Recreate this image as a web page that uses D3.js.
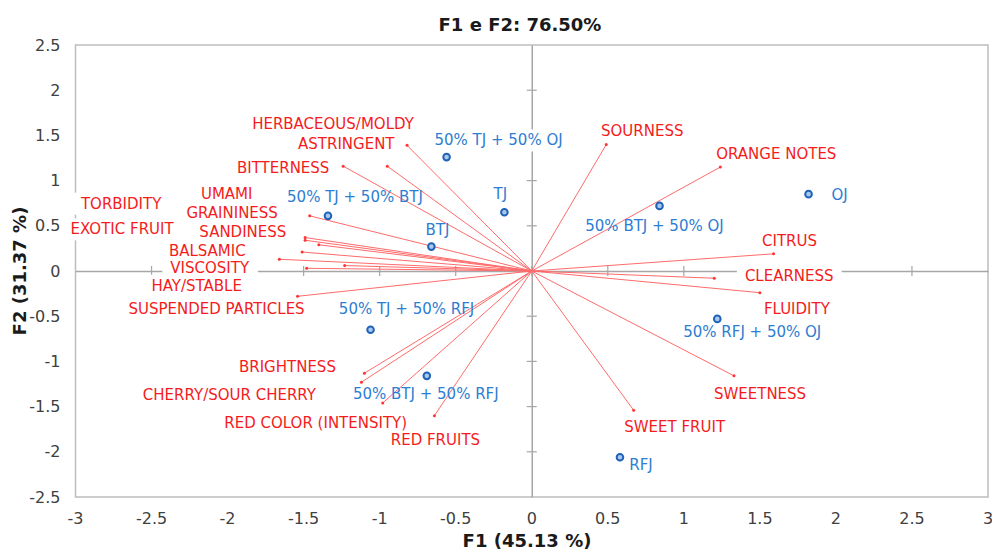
<!DOCTYPE html>
<html>
<head>
<meta charset="utf-8">
<script src="https://cdn.jsdelivr.net/npm/d3@7"></script>
<style>
  body { margin: 0; background: #fff; }
  text { font-family: "DejaVu Sans", sans-serif; }
</style>
</head>
<body>
<div id="chartCont"></div>
<script>
// observations (products)
var obsNames = ['50% TJ + 50% OJ', '50% TJ + 50% BTJ', 'TJ', 'BTJ', '50% BTJ + 50% OJ', 'OJ',
    '50% TJ + 50% RFJ', '50% BTJ + 50% RFJ', '50% RFJ + 50% OJ', 'RFJ'];
var obsF1 = [-0.56, -1.34, -0.18, -0.66, 0.84, 1.82, -1.06, -0.69, 1.22, 0.58];
var obsF2 = [1.26, 0.61, 0.65, 0.27, 0.72, 0.85, -0.65, -1.16, -0.53, -2.06];

// variables (sensory attributes)
var varNames = ['HERBACEOUS/MOLDY', 'ASTRINGENT', 'BITTERNESS', 'UMAMI', 'GRAININESS', 'TORBIDITY',
    'SANDINESS', 'EXOTIC FRUIT', 'BALSAMIC', 'VISCOSITY', 'HAY/STABLE', 'SUSPENDED PARTICLES',
    'BRIGHTNESS', 'CHERRY/SOUR CHERRY', 'RED COLOR (INTENSITY)', 'RED FRUITS',
    'SOURNESS', 'ORANGE NOTES', 'CITRUS', 'CLEARNESS', 'FLUIDITY', 'SWEETNESS', 'SWEET FRUIT'];
var varF1 = [-0.82, -0.95, -1.24, -1.46, -1.49, -1.49, -1.40, -1.51, -1.66, -1.23, -1.48, -1.54,
    -1.10, -1.12, -0.98, -0.64, 0.49, 1.24, 1.59, 1.20, 1.50, 1.33, 0.67];
var varF2 = [1.39, 1.16, 1.16, 0.61, 0.37, 0.34, 0.29, 0.21, 0.13, 0.06, 0.03, -0.28,
    -1.13, -1.23, -1.46, -1.60, 1.40, 1.15, 0.19, -0.08, -0.24, -1.16, -1.54];

var xTicks = [-3, -2.5, -2, -1.5, -1, -0.5, 0, 0.5, 1, 1.5, 2, 2.5, 3];
var yTicks = [-2.5, -2, -1.5, -1, -0.5, 0, 0.5, 1, 1.5, 2, 2.5];

var chartTitle = 'F1 e F2: 76.50%';
var xTitle = 'F1 (45.13 %)';
var yTitle = 'F2 (31.37 %)';

// label placement, pixel offset of label centre from its mark (moved by hand like in the original)
var obsLabelOff = [[52, -17], [27, -19], [-4, -19], [6, -17], [-5, 20], [31, 0],
    [36, -21], [-1, 18], [35, 13], [21, 7]];
var varLabelOff = [[-74, -22], [-41, -23], [-60, 1], [-83, -22], [-73, -25], [-184, -37],
    [-76, -13], [-180, -23], [-72, -9], [-135, 2], [-110, 17], [-81, 12],
    [-77, -7], [-132, 12], [-67, 20], [1, 24],
    [36, -14], [56, -13], [16, -13], [75, -3], [37, 16], [26, 18], [41, 16]];

var svgSize = {width: 992, height: 553, margin: {top: 45, right: 4, bottom: 56, left: 75.5}};

var svg = d3.select('#chartCont').append('svg')
    .attr('width', svgSize.width)
    .attr('height', svgSize.height);

var x = d3.scaleLinear().domain([-3, 3])
    .range([svgSize.margin.left, svgSize.width - svgSize.margin.right]);
var y = d3.scaleLinear().domain([-2.5, 2.5])
    .range([svgSize.height - svgSize.margin.bottom, svgSize.margin.top]);

var axisCol = '#a6a6a6';
var textCol = '#404040';
var redText = '#f41c1c';
var redLine = '#ff6b6b';
var blueText = '#2d7dd2';

// frame
svg.append('rect')
    .attr('x', x(-3)).attr('y', y(2.5))
    .attr('width', x(3) - x(-3)).attr('height', y(-2.5) - y(2.5))
    .attr('fill', 'none').attr('stroke', '#bdbdbd').attr('stroke-width', 1.5);

// axes crossing at origin, ticks as little crosses
var axX = svg.append('g').attr('transform', 'translate(0,' + y(0) + ')')
    .call(d3.axisBottom(x).tickValues(xTicks).tickSize(0).tickFormat(''));
axX.select('.domain').attr('stroke', axisCol).attr('stroke-width', 1.5);
svg.append('g').selectAll('line').data(xTicks.slice(1, -1)).enter().append('line')
    .attr('x1', d => x(d)).attr('x2', d => x(d))
    .attr('y1', y(0) - 5).attr('y2', y(0) + 5)
    .attr('stroke', axisCol).attr('stroke-width', 1.2);

var axY = svg.append('g').attr('transform', 'translate(' + x(0) + ',0)')
    .call(d3.axisLeft(y).tickValues(yTicks).tickSize(0).tickFormat(''));
axY.select('.domain').attr('stroke', axisCol).attr('stroke-width', 1.5);
svg.append('g').selectAll('line').data(yTicks.slice(1, -1)).enter().append('line')
    .attr('y1', d => y(d)).attr('y2', d => y(d))
    .attr('x1', x(0) - 5).attr('x2', x(0) + 5)
    .attr('stroke', axisCol).attr('stroke-width', 1.2);

// tick labels on the outer frame
svg.append('g').selectAll('text').data(yTicks).enter().append('text')
    .attr('x', x(-3) - 15).attr('y', d => y(d))
    .attr('dy', '0.35em').attr('text-anchor', 'end')
    .attr('font-size', 16).attr('fill', textCol)
    .text(d => d);
svg.append('g').selectAll('text').data(xTicks).enter().append('text')
    .attr('x', d => x(d)).attr('y', y(-2.5) + 21)
    .attr('dy', '0.35em').attr('text-anchor', 'middle')
    .attr('font-size', 16).attr('fill', textCol)
    .text(d => d);

// titles
svg.append('text').attr('x', 520).attr('y', 25).attr('dy', '0.35em')
    .attr('text-anchor', 'middle').attr('font-size', 18).attr('font-weight', 'bold')
    .attr('fill', '#1a1a1a').text(chartTitle);
svg.append('text').attr('x', 527).attr('y', 541).attr('dy', '0.35em')
    .attr('text-anchor', 'middle').attr('font-size', 18).attr('font-weight', 'bold')
    .attr('fill', '#1a1a1a').text(xTitle);
svg.append('text').attr('transform', 'translate(20,' + y(0) + ') rotate(-90)')
    .attr('dy', '0.35em').attr('text-anchor', 'middle').attr('font-size', 18)
    .attr('font-weight', 'bold').attr('fill', '#1a1a1a').text(yTitle);

// build label records
var labels = [];
varNames.forEach(function (n, i) {
    labels.push({text: n, cx: x(varF1[i]) + varLabelOff[i][0], cy: y(varF2[i]) + varLabelOff[i][1], color: redText});
});
obsNames.forEach(function (n, i) {
    labels.push({text: n, cx: x(obsF1[i]) + obsLabelOff[i][0], cy: y(obsF2[i]) + obsLabelOff[i][1], color: blueText});
});

// white label boxes hide the axis lines underneath
var boxG = svg.append('g');
var lineG = svg.append('g');
var pointG = svg.append('g');
var textG = svg.append('g');

var txt = textG.selectAll('text').data(labels).enter().append('text')
    .attr('x', d => d.cx).attr('y', d => d.cy)
    .attr('dy', '0.36em').attr('text-anchor', 'middle')
    .attr('font-size', 15).attr('fill', d => d.color)
    .text(d => d.text);

txt.each(function (d) {
    var bb = this.getBBox();
    boxG.append('rect')
        .attr('x', bb.x - 8).attr('y', bb.y - 2)
        .attr('width', bb.width + 16).attr('height', bb.height + 4)
        .attr('fill', '#fff');
});

// variable vectors
lineG.selectAll('line').data(varNames).enter().append('line')
    .attr('x1', x(0)).attr('y1', y(0))
    .attr('x2', (d, i) => x(varF1[i])).attr('y2', (d, i) => y(varF2[i]))
    .attr('stroke', redLine).attr('stroke-width', 1);
lineG.selectAll('circle').data(varNames).enter().append('circle')
    .attr('cx', (d, i) => x(varF1[i])).attr('cy', (d, i) => y(varF2[i]))
    .attr('r', 1.5).attr('fill', '#f33');

// observation points
pointG.selectAll('circle').data(obsNames).enter().append('circle')
    .attr('cx', (d, i) => x(obsF1[i])).attr('cy', (d, i) => y(obsF2[i]))
    .attr('r', 3.3)
    .attr('fill', '#a8c8ee').attr('stroke', '#1f62b6').attr('stroke-width', 2);
</script>
</body>
</html>
